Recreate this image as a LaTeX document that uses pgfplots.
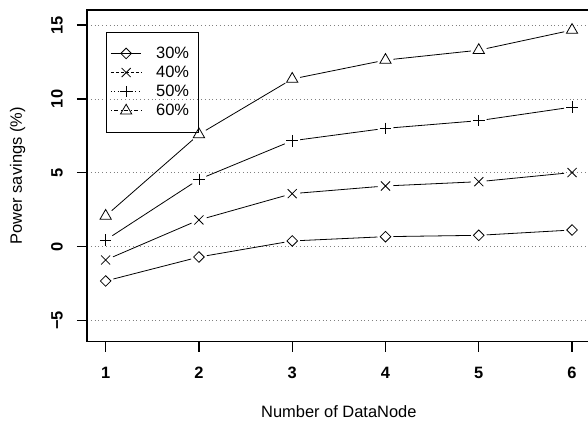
\documentclass[border=0pt]{standalone}
\usepackage{pgfplots}
\pgfplotsset{compat=1.18}
\usepackage{fontspec}
\setmainfont{Liberation Sans}
\newcommand\seg[4]{\addplot[seg] coordinates {(#1,#2) (#3,#4)};}
\begin{document}
\begin{tikzpicture}
\begin{axis}[
  at={(0bp,0bp)}, anchor=south west,
  scale only axis, width=503.7bp, height=331.7bp,
  xmin=0.8, xmax=6.2, ymin=-6.43, ymax=16.02,
  xtick={1,2,3,4,5,6}, ytick={-5,0,5,10,15},
  yticklabels={−5,0,5,10,15},
  xtick pos=bottom, ytick pos=left, tick align=outside,
  major tick length=10bp,
  tick style={black, line width=1.3bp},
  axis line style={line width=1.3bp},
  ymajorgrids,
  grid style={gray, line width=0.8bp, dash pattern=on 0.9bp off 2.9bp},
  /pgf/number format/assume math mode=true,
  tick label style={font=\fontsize{16.5}{18}\selectfont\bfseries},
  xticklabel style={anchor=north, inner sep=0pt},
  yticklabel style={rotate=90, anchor=south, inner sep=0pt},
  xticklabel shift=15.6bp, yticklabel shift=14bp,
  xlabel={Number of DataNode}, ylabel={Power savings (\%)},
  label style={font=\fontsize{16.5}{18}\selectfont},
  xlabel style={at={([yshift=-76bp]axis description cs:0.5,0)}, anchor=base},
  ylabel style={at={([xshift=-65bp]axis description cs:0,0.5)}, anchor=base},
  seg/.style={black, line width=0.8bp, shorten <=8bp, shorten >=8bp, forget plot},
  mk/.style={only marks, black, line width=0.8bp, forget plot},
  legend style={at={([xshift=18.7bp,yshift=-21.7bp]axis description cs:0,1)}, anchor=north west,
    draw=black, line width=0.8bp, fill=none, inner xsep=4.3bp, inner ysep=11.8bp,
    row sep=0pt, column sep=14.3bp, font=\fontsize{16.5}{18}\selectfont,
    nodes={inner sep=0pt, minimum height=19.1bp}},
  legend cell align=left,
  legend image code/.code={\draw[mark repeat=2,mark phase=2,#1] plot coordinates {(0bp,0bp)(15.35bp,0bp)(30.7bp,0bp)};},
]
% 30%
\seg{1}{-2.32}{2}{-0.70}\seg{2}{-0.70}{3}{0.39}\seg{3}{0.39}{4}{0.68}\seg{4}{0.68}{5}{0.77}\seg{5}{0.77}{6}{1.13}
\addplot[mk, mark=square, mark size=3.75bp, mark options={rotate=45}] coordinates {(1,-2.32)(2,-0.70)(3,0.39)(4,0.68)(5,0.77)(6,1.13)};
% 40%
\seg{1}{-0.90}{2}{1.81}\seg{2}{1.81}{3}{3.59}\seg{3}{3.59}{4}{4.11}\seg{4}{4.11}{5}{4.40}\seg{5}{4.40}{6}{5.02}
\addplot[mk, mark=x, mark size=6.4bp] coordinates {(1,-0.90)(2,1.81)(3,3.59)(4,4.11)(5,4.40)(6,5.02)};
% 50%
\seg{1}{0.45}{2}{4.56}\seg{2}{4.56}{3}{7.17}\seg{3}{7.17}{4}{8.01}\seg{4}{8.01}{5}{8.53}\seg{5}{8.53}{6}{9.45}
\addplot[mk, mark=+, mark size=5.8bp] coordinates {(1,0.45)(2,4.56)(3,7.17)(4,8.01)(5,8.53)(6,9.45)};
% 60%
\seg{1}{2.08}{2}{7.60}\seg{2}{7.60}{3}{11.35}\seg{3}{11.35}{4}{12.63}\seg{4}{12.63}{5}{13.30}\seg{5}{13.30}{6}{14.66}
\addplot[mk, mark=triangle, mark size=6.5bp] coordinates {(1,2.08)(2,7.60)(3,11.35)(4,12.63)(5,13.30)(6,14.66)};
\addlegendimage{black, line width=0.8bp, mark=square, mark size=3.75bp, mark options={rotate=45, solid}}
\addlegendentry{\makebox[37.5bp][l]{30\%}}
\addlegendimage{black, line width=0.8bp, dash pattern=on 3bp off 2bp, mark=x, mark size=6.4bp, mark options={solid}}
\addlegendentry{\makebox[37.5bp][l]{40\%}}
\addlegendimage{black, line width=0.8bp, dash pattern=on 1bp off 2.5bp, mark=+, mark size=5.8bp, mark options={solid}}
\addlegendentry{\makebox[37.5bp][l]{50\%}}
\addlegendimage{black, line width=0.8bp, dash pattern=on 1bp off 2.5bp on 4bp off 2.5bp, mark=triangle, mark size=6.5bp, mark options={solid}}
\addlegendentry{\makebox[37.5bp][l]{60\%}}
\end{axis}
\pgfresetboundingbox
\path[use as bounding box] (-87bp,-79.3bp) rectangle (501bp,341.7bp);
\end{tikzpicture}
\end{document}
